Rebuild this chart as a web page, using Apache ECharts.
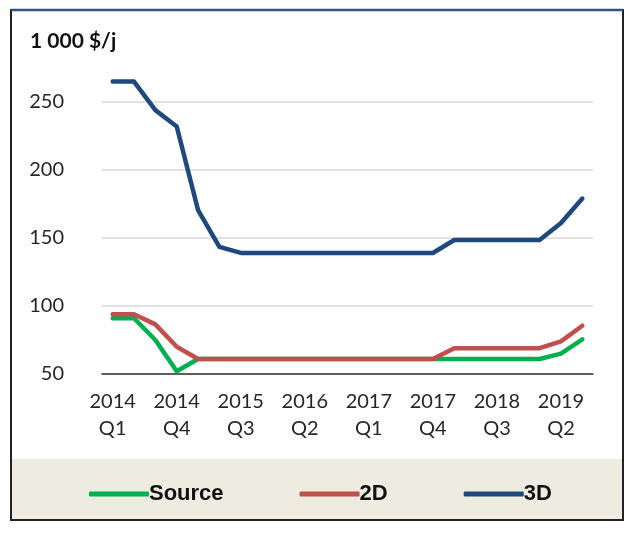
<!DOCTYPE html>
<html>
<head>
<meta charset="utf-8">
<script src="https://cdn.jsdelivr.net/npm/echarts@6/dist/echarts.min.js"></script>
<style>
html,body{margin:0;padding:0;background:#fff;}
#chart{width:637px;height:533px;}
</style>
</head>
<body>
<div id="chart"></div>
<script>
var categories = ['2014\nQ1','2014\nQ2','2014\nQ3','2014\nQ4','2015\nQ1','2015\nQ2','2015\nQ3','2015\nQ4',
  '2016\nQ1','2016\nQ2','2016\nQ3','2016\nQ4','2017\nQ1','2017\nQ2','2017\nQ3','2017\nQ4',
  '2018\nQ1','2018\nQ2','2018\nQ3','2018\nQ4','2019\nQ1','2019\nQ2','2019\nQ3'];
var sourceVals = [91,91,75,52,61,61,61,61,61,61,61,61,61,61,61,61,61,61,61,61,61,65,75.5];
var d2Vals = [94,94,86.5,70,61,61,61,61,61,61,61,61,61,61,61,61,69,69,69,69,69,74,85.5];
var d3Vals = [265,265,244,232,170.5,143.5,139,139,139,139,139,139,139,139,139,139,148.5,148.5,148.5,148.5,148.5,161,179];
var yTicks = [50,100,150,200,250];
var unitLabel = '1 000 $/j';

var chart = echarts.init(document.getElementById('chart'), null, {renderer:'canvas'});
var font = 'Lato, "Noto Sans", sans-serif';
function mk(name, data, color){
  return {name:name, type:'line', data:data, symbol:'none', clip:false, smooth:false,
    lineStyle:{color:color, width:4.5, cap:'round', join:'round'}, itemStyle:{color:color}};
}
chart.setOption({
  animation:false,
  backgroundColor:'#ffffff',
  graphic:[
    {type:'rect', shape:{x:11, y:459, width:612, height:61}, style:{fill:'#EEEBE0'}, z:-10},
    {type:'rect', shape:{x:11, y:10, width:612, height:510}, style:{fill:null, stroke:'#222', lineWidth:2}, z:-5},
    {type:'line', shape:{x1:11, y1:10, x2:623, y2:10}, style:{stroke:'#2E5486', lineWidth:2.5}, z:-4},
    {type:'text', left:30, top:31, style:{text:unitLabel, font:'bold 21px ' + font, fill:'#111'}}
  ],
  grid:{left:102, right:44, top:102, bottom:159, containLabel:false},
  legend:{
    left:84, top:478, itemGap:76, itemWidth:60, itemHeight:5, icon:'roundRect',
    textStyle:{fontFamily:'"Liberation Sans", Arial, sans-serif', fontWeight:'bold', fontSize:22, color:'#111', padding:[0,0,0,-5]},
    data:['Source','2D','3D']
  },
  xAxis:{
    type:'category', data:categories, boundaryGap:true,
    axisLine:{lineStyle:{color:'#333', width:1.5}},
    axisTick:{interval:3, length:6, lineStyle:{color:'#333', width:1.5}},
    axisLabel:{interval:2, margin:14, fontFamily:font, fontSize:20, lineHeight:27, color:'#262626'},
    splitLine:{show:false}
  },
  yAxis:{
    type:'value', min:yTicks[0], max:yTicks[yTicks.length-1], interval:50,
    axisLine:{show:false}, axisTick:{show:false},
    axisLabel:{margin:38, fontFamily:font, fontSize:20, color:'#262626'},
    splitLine:{lineStyle:{color:'#D9D9D9', width:1.5}}
  },
  series:[
    mk('Source', sourceVals, '#00B050'),
    mk('2D', d2Vals, '#C0504D'),
    mk('3D', d3Vals, '#1F497D')
  ]
});
</script>
</body>
</html>
